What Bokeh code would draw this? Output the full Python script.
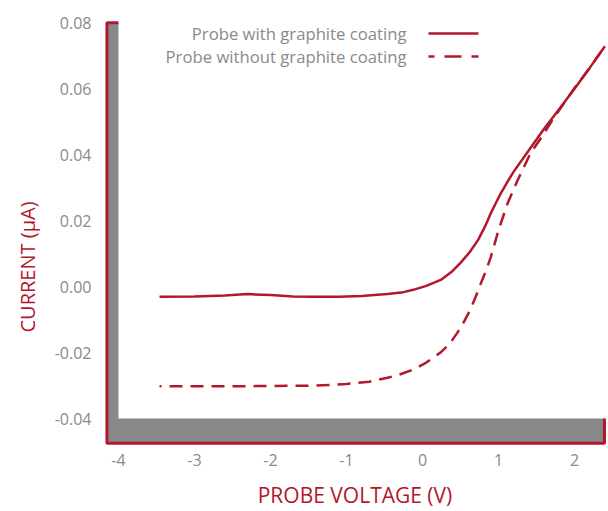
from bokeh.plotting import figure
from bokeh.models import Range1d, FixedTicker, NumeralTickFormatter, Label, Arrow, Title
from bokeh.embed import file_html
from bokeh.resources import INLINE

# ---- data ----
voltage_coated = [-3.46, -3.0, -2.6, -2.3, -2.0, -1.7, -1.44, -1.1, -0.8, -0.46, -0.25, -0.12,
                  0.05, 0.24, 0.38, 0.5, 0.62, 0.73, 0.82, 0.9, 0.97, 1.03, 1.12, 1.2, 1.39,
                  1.6, 1.8, 2.0, 2.2, 2.4]
current_coated = [-0.0030, -0.0029, -0.0026, -0.0022, -0.0025, -0.0029, -0.0030, -0.0030, -0.0028,
                  -0.0022, -0.0016, -0.0009, 0.0003, 0.0021, 0.0045, 0.0073, 0.0105, 0.0142,
                  0.0182, 0.0224, 0.0257, 0.0284, 0.0320, 0.0350, 0.0412, 0.0480, 0.0540,
                  0.0602, 0.0665, 0.0731]

voltage_uncoated = [-3.46, -3.0, -2.5, -2.0, -1.5, -1.2, -1.0, -0.7, -0.46, -0.3, -0.12, 0.05,
                    0.24, 0.36, 0.46, 0.55, 0.63, 0.7, 0.77, 0.84, 0.9, 1.0, 1.12, 1.25, 1.42,
                    1.58, 1.73, 2.0, 2.2, 2.4]
current_uncoated = [-0.0302, -0.0302, -0.0302, -0.0301, -0.0300, -0.0298, -0.0295, -0.0288,
                    -0.0276, -0.0266, -0.0251, -0.0230, -0.0199, -0.0172, -0.0139, -0.0104,
                    -0.0069, -0.0030, 0.0012, 0.0052, 0.0091, 0.0172, 0.0254, 0.0323, 0.0405,
                    0.0459, 0.0514, 0.0604, 0.0665, 0.0731]

x_ticks = [-4, -3, -2, -1, 0, 1, 2]
y_ticks = [-0.04, -0.02, 0.0, 0.02, 0.04, 0.06, 0.08]
series_labels = ["Probe with graphite coating", "Probe without graphite coating"]

RED = "#B3172A"
GRAY_TXT = "#8a8a8a"
BAND = "#878889"
FONT = "Open Sans"

p = figure(width=608, height=511, output_backend="svg", toolbar_location=None,
           x_range=Range1d(-4.197, 2.421), y_range=Range1d(-0.04848, 0.08120),
           min_border_left=103, min_border_right=2, min_border_top=19, min_border_bottom=64)
p.outline_line_color = None
p.grid.visible = False
p.background_fill_color = "white"

# L-shaped axis band
bx0, by0 = -4.152, -0.04749
bx1, by1 = 2.394, 0.0802
p.patch([bx0, -4.0, -4.0, bx1, bx1, bx0], [by1, by1, -0.04, -0.04, by0, by0],
        fill_color=BAND, line_color=None)
p.line([-4.0, bx0, bx0, bx1, bx1], [by1, by1, by0, by0, -0.04], line_color=RED, line_width=3)

# curves
p.line(voltage_coated, current_coated, line_color=RED, line_width=2.5)
p.line(voltage_uncoated, current_uncoated, line_color=RED, line_width=2.5,
       line_dash="13 8", line_dash_offset=11)

# axes
for ax in (p.xaxis[0], p.yaxis[0]):
    ax.axis_line_color = None
    ax.major_tick_line_color = None
    ax.minor_tick_line_color = None
    ax.major_label_text_font = FONT
    ax.major_label_text_font_size = "16px"
    ax.major_label_text_color = GRAY_TXT

p.xaxis.ticker = FixedTicker(ticks=x_ticks)
p.yaxis.ticker = FixedTicker(ticks=y_ticks)
p.yaxis.formatter = NumeralTickFormatter(format="0.00")
p.xaxis.formatter = NumeralTickFormatter(format="0")
p.xaxis.major_label_standoff = 1
p.yaxis.major_label_standoff = 6

p.xaxis.axis_label = "PROBE VOLTAGE (V)"
p.xaxis.axis_label_text_font = FONT
p.xaxis.axis_label_text_font_size = "21px"
p.xaxis.axis_label_text_font_style = "normal"
p.xaxis.axis_label_text_color = RED
p.xaxis.axis_label_standoff = 12

# y title as a left-side title, shifted along the frame
p.add_layout(Title(text="CURRENT (µA)", align="left", offset=114, standoff=22,
                   text_font=FONT, text_font_size="20px", text_font_style="normal",
                   text_color=RED), "left")

# legend (text left, sample right)
rows_y = [413, 390]
dashes = [None, "17 10"]
for lbl, ry, dash in zip(series_labels, rows_y, dashes):
    p.add_layout(Label(x=303, y=ry, x_units="screen", y_units="screen", text=lbl,
                       text_align="right", text_baseline="middle",
                       text_font=FONT, text_font_size="16.7px", text_color=GRAY_TXT))
    kw = dict(line_dash=dash, line_dash_offset=11) if dash else {}
    p.add_layout(Arrow(x_start=325, y_start=ry, x_end=375, y_end=ry,
                       start_units="screen", end_units="screen", start=None, end=None,
                       line_color=RED, line_width=2.5, **kw))

open("out.html", "w").write(file_html(p, INLINE))
